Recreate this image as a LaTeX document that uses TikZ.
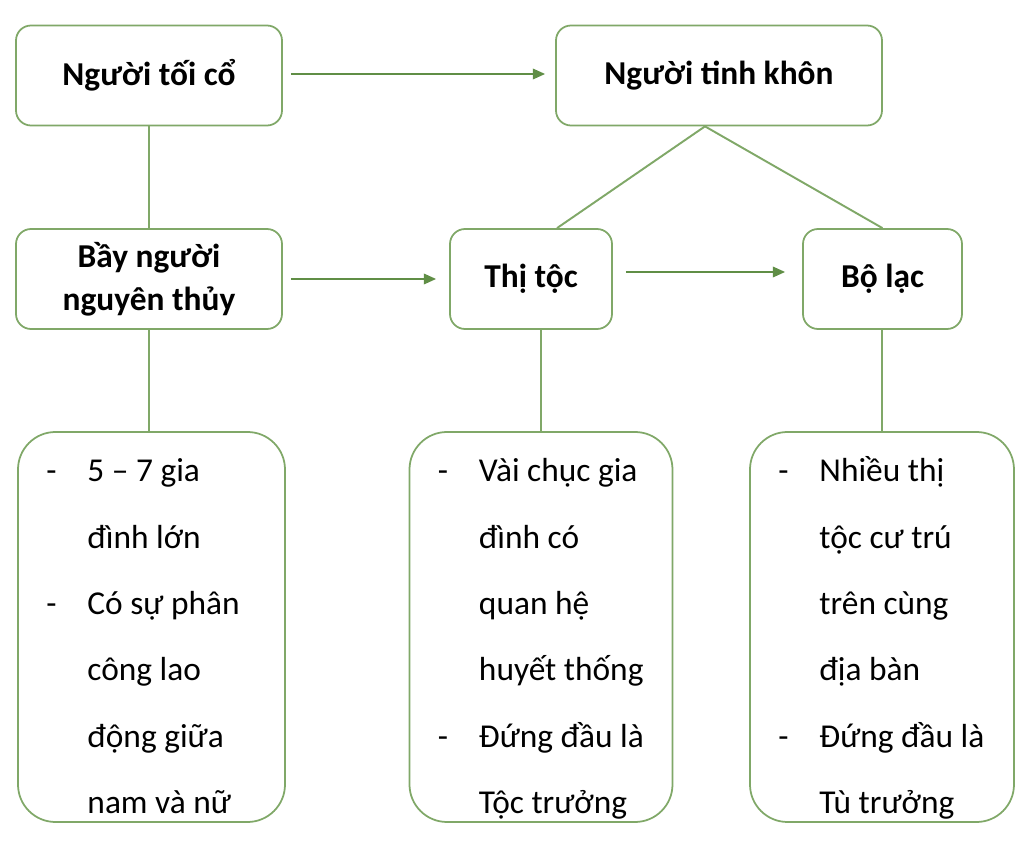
\documentclass[tikz,border=0pt]{standalone}
\usepackage{fontspec}
\setmainfont{Carlito}
\usetikzlibrary{arrows.meta, positioning}

\definecolor{boxgreen}{RGB}{128,168,104}
\definecolor{arrowgreen}{RGB}{96,142,70}

\tikzset{
  topbox/.style={draw=boxgreen, line width=1pt, rounded corners=0.3cm, minimum height=2cm, align=center, font=\fontsize{19}{24.5}\selectfont\bfseries},
  listbox/.style={draw=boxgreen, line width=1pt, rounded corners=0.75cm, minimum height=7.8cm},
  listtext/.style={anchor=west, inner sep=0pt, font=\fontsize{19}{37.8}\selectfont},
  link/.style={boxgreen, line width=1.1pt},
  flow/.style={arrowgreen, line width=1.1pt, -{Triangle[length=7pt,width=6pt]}}
}

\begin{document}
\begin{tikzpicture}
  \useasboundingbox (0,0) rectangle (20.48,-17.1);

  % upper row
  \node[topbox, minimum width=5.32cm] (toico) at (2.98,-1.51) {Người tối cổ};
  \node[topbox, minimum width=6.52cm] (tinhkhon) at (14.38,-1.51) {Người tinh khôn};

  % middle row
  \node[topbox, minimum width=5.32cm] (bayng) at (2.98,-5.58) {Bầy người\\nguyên thủy};
  \node[topbox, minimum width=3.24cm] (thitoc) at (10.62,-5.58) {Thị tộc};
  \node[topbox, minimum width=3.18cm] (bolac) at (17.65,-5.58) {Bộ lạc};

  % lower row
  \node[listbox, minimum width=5.34cm] (lstbay) at (3.03,-12.54) {};
  \node[listbox, minimum width=5.26cm] (lsttoc) at (10.82,-12.54) {};
  \node[listbox, minimum width=5.28cm] (lstlac) at (17.64,-12.54) {};

  \node[listtext] (txbay) at ([xshift=0.58cm, yshift=-0.15cm]lstbay.west) {%
    \begin{tabular}{@{}p{0.82cm}@{}l@{}}
      - & 5 – 7 gia\\
        & đình lớn\\
      - & Có sự phân\\
        & công lao\\
        & động giữa\\
        & nam và nữ
    \end{tabular}};
  \node[listtext] (txtoc) at ([xshift=0.58cm, yshift=-0.15cm]lsttoc.west) {%
    \begin{tabular}{@{}p{0.82cm}@{}l@{}}
      - & Vài chục gia\\
        & đình có\\
        & quan hệ\\
        & huyết thống\\
      - & Đứng đầu là\\
        & Tộc trưởng
    \end{tabular}};
  \node[listtext] (txlac) at ([xshift=0.58cm, yshift=-0.15cm]lstlac.west) {%
    \begin{tabular}{@{}p{0.82cm}@{}l@{}}
      - & Nhiều thị\\
        & tộc cư trú\\
        & trên cùng\\
        & địa bàn\\
      - & Đứng đầu là\\
        & Tù trưởng
    \end{tabular}};

  % arrows
  \draw[flow, shorten <=0.16cm, shorten >=0.2cm] ([yshift=0.03cm]toico.east) -- ([yshift=0.03cm]tinhkhon.west);
  \draw[flow, shorten <=0.16cm, shorten >=0.26cm] (bayng.east) -- (thitoc.west);
  \draw[flow, shorten <=0.26cm, shorten >=0.34cm] ([yshift=0.14cm]thitoc.east) -- ([yshift=0.14cm]bolac.west);

  % plain links
  \draw[link] (toico.south) -- (bayng.north);
  \draw[link] ([xshift=-0.28cm]tinhkhon.south) -- ([xshift=0.52cm]thitoc.north);
  \draw[link] ([xshift=-0.28cm]tinhkhon.south) -- (bolac.north);
  \draw[link] (bayng.south) -- (bayng.south |- lstbay.north);
  \draw[link] (lsttoc.north) -- (lsttoc.north |- thitoc.south);
  \draw[link] (lstlac.north) -- (lstlac.north |- bolac.south);
\end{tikzpicture}
\end{document}
